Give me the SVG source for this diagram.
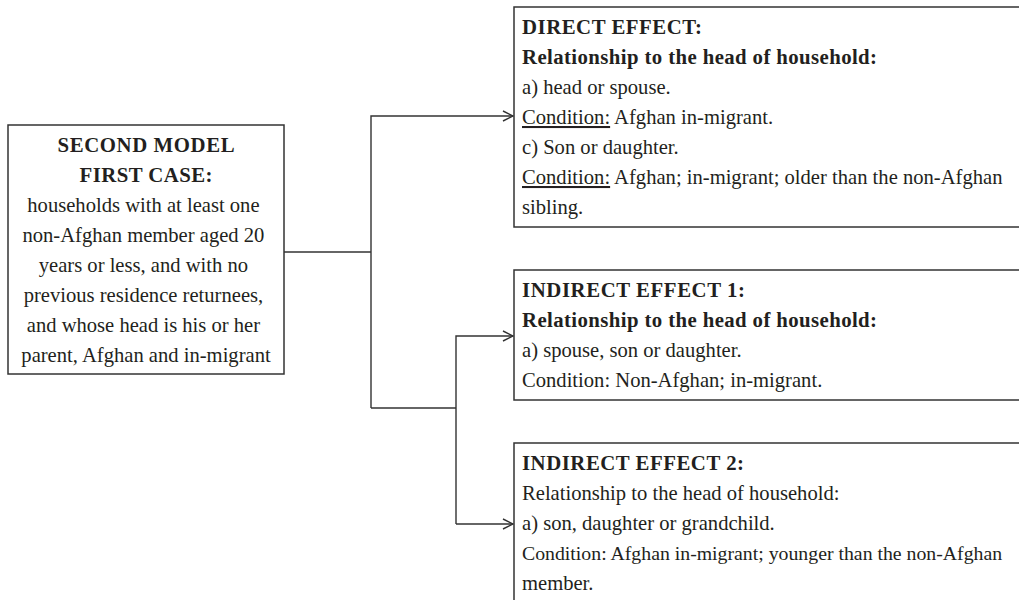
<svg xmlns="http://www.w3.org/2000/svg" width="1019" height="600" viewBox="0 0 1019 600">
  <style>
    .box { fill: #ffffff; stroke: #333333; stroke-width: 1.5; }
    .txt { font-family: "Liberation Serif", "Times New Roman", serif; font-size: 20.6px; fill: #231f20; }
    .b { font-weight: bold; font-size: 20.8px; }
    .mid { text-anchor: middle; }
    .u { text-decoration: underline; }
    .wire { fill: none; stroke: #333333; stroke-width: 1.4; }
  </style>
  <defs>
    <marker id="arrow" viewBox="0 0 12 12" refX="11" refY="6" markerWidth="12" markerHeight="12" markerUnits="userSpaceOnUse" orient="auto">
      <path d="M1,1 L11,6 L1,11" fill="none" stroke="#333333" stroke-width="1.4"/>
    </marker>
  </defs>
  <rect width="1019" height="600" fill="#ffffff"/>

  <!-- connectors -->
  <g id="connectors">
    <polyline class="wire" points="284,252 371,252"/>
    <polyline class="wire" points="371,408 371,116 513,116" marker-end="url(#arrow)"/>
    <polyline class="wire" points="371,408 456,408"/>
    <polyline class="wire" points="456,524 456,336 513,336" marker-end="url(#arrow)"/>
    <polyline class="wire" points="456,524 513,524" marker-end="url(#arrow)"/>
  </g>

  <!-- source: second model, first case -->
  <g id="second-model">
    <rect class="box" x="8" y="125" width="276" height="249"/>
    <text class="txt b mid" x="146" y="152" textLength="177" lengthAdjust="spacing">SECOND MODEL</text>
    <text class="txt b mid" x="146" y="182" textLength="133" lengthAdjust="spacing">FIRST CASE:</text>
    <text class="txt mid" x="146">
      <tspan x="146" y="212">households with at least one</tspan>
      <tspan x="146" y="242">non-Afghan member aged 20</tspan>
      <tspan x="146" y="272">years or less, and with no</tspan>
      <tspan x="146" y="302">previous residence returnees,</tspan>
      <tspan x="146" y="332">and whose head is his or her</tspan>
      <tspan x="146" y="362">parent, Afghan and in-migrant</tspan>
    </text>
  </g>

  <!-- direct effect -->
  <g id="direct-effect">
    <rect class="box" x="514" y="7" width="520" height="220"/>
    <text class="txt b" x="522" y="34" textLength="180" lengthAdjust="spacing">DIRECT EFFECT:</text>
    <text class="txt b" x="522" y="64" textLength="355" lengthAdjust="spacing">Relationship to the head of household:</text>
    <text class="txt" x="522">
      <tspan x="522" y="94">a) head or spouse.</tspan>
      <tspan x="522" y="124"><tspan class="u">Condition:</tspan> Afghan in-migrant.</tspan>
      <tspan x="522" y="154">c) Son or daughter.</tspan>
      <tspan x="522" y="184"><tspan class="u">Condition:</tspan> Afghan; in-migrant; older than the non-Afghan</tspan>
      <tspan x="522" y="214">sibling.</tspan>
    </text>
  </g>

  <!-- indirect effect 1 -->
  <g id="indirect-effect-1">
    <rect class="box" x="514" y="270" width="520" height="130"/>
    <text class="txt b" x="522" y="297" textLength="223" lengthAdjust="spacing">INDIRECT EFFECT 1:</text>
    <text class="txt b" x="522" y="327" textLength="355" lengthAdjust="spacing">Relationship to the head of household:</text>
    <text class="txt" x="522">
      <tspan x="522" y="357">a) spouse, son or daughter.</tspan>
      <tspan x="522" y="387">Condition: Non-Afghan; in-migrant.</tspan>
    </text>
  </g>

  <!-- indirect effect 2 -->
  <g id="indirect-effect-2">
    <rect class="box" x="514" y="443" width="520" height="170"/>
    <text class="txt b" x="522" y="470" textLength="222" lengthAdjust="spacing">INDIRECT EFFECT 2:</text>
    <text class="txt" x="522">
      <tspan x="522" y="500">Relationship to the head of household:</tspan>
      <tspan x="522" y="530">a) son, daughter or grandchild.</tspan>
    </text>
    <text class="txt" x="522" y="560" style="font-size:19.8px">Condition: Afghan in-migrant; younger than the non-Afghan</text>
    <text class="txt" x="522" y="590">member.</text>
  </g>
</svg>
